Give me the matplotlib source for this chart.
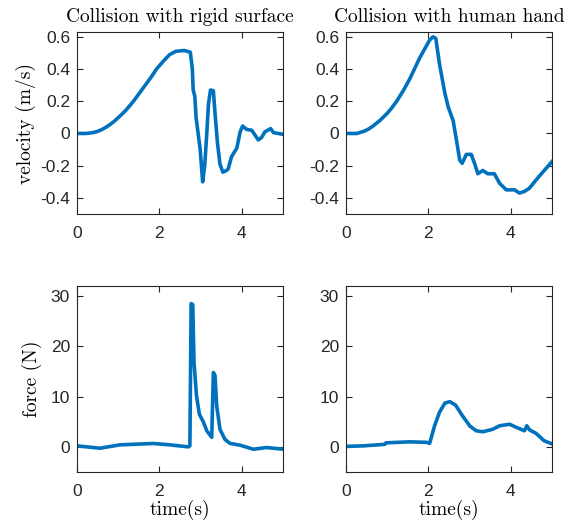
import matplotlib.pyplot as plt

# velocity, rigid surface
t_vr = [0, 0.2, 0.3, 0.4, 0.5, 0.6, 0.7, 0.8, 0.9, 1.0, 1.1, 1.2, 1.37, 1.5, 1.6, 1.8, 1.93,
        2.1, 2.25, 2.4, 2.6, 2.75, 2.8, 2.82, 2.86, 2.89, 2.94, 2.99, 3.05, 3.1, 3.15, 3.19,
        3.24, 3.31, 3.35, 3.41, 3.47, 3.54, 3.63, 3.67, 3.75, 3.88, 3.96, 4.02, 4.12, 4.24,
        4.4, 4.48, 4.56, 4.7, 4.77, 5.0]
v_rigid = [0, 0.0, 0.002, 0.006, 0.013, 0.024, 0.038, 0.055, 0.075, 0.098, 0.122, 0.148, 0.2,
           0.245, 0.28, 0.35, 0.4, 0.45, 0.49, 0.51, 0.515, 0.505, 0.4, 0.27, 0.23, 0.1, 0.0,
           -0.1, -0.3, -0.2, 0.0, 0.18, 0.27, 0.265, 0.125, -0.06, -0.19, -0.24, -0.23, -0.22,
           -0.145, -0.09, 0.01, 0.046, 0.025, 0.02, -0.04, -0.025, 0.01, 0.03, 0.005, -0.005]

# velocity, human hand
t_vh = [0, 0.26, 0.34, 0.45, 0.55, 0.65, 0.82, 1.0, 1.1, 1.23, 1.4, 1.55, 1.79, 2.03, 2.11,
        2.18, 2.27, 2.4, 2.48, 2.6, 2.68, 2.76, 2.82, 2.92, 3.04, 3.12, 3.2, 3.32, 3.44, 3.6,
        3.73, 3.89, 4.09, 4.21, 4.33, 4.45, 4.61, 4.81, 5.0]
v_hand = [0, 0.0, 0.006, 0.015, 0.028, 0.045, 0.08, 0.125, 0.155, 0.2, 0.27, 0.34, 0.47, 0.58,
          0.6, 0.59, 0.43, 0.25, 0.165, 0.08, -0.04, -0.165, -0.185, -0.13, -0.13, -0.185, -0.25,
          -0.23, -0.25, -0.25, -0.31, -0.35, -0.35, -0.37, -0.36, -0.34, -0.29, -0.23, -0.175]

# force, rigid surface
t_fr = [0, 0.56, 1.04, 1.85, 2.26, 2.7, 2.74, 2.77, 2.81, 2.84, 2.9, 2.97, 3.07, 3.15,
        3.27, 3.31, 3.35, 3.39, 3.47, 3.59, 3.71, 3.96, 4.28, 4.6, 5.0]
f_rigid = [0.2, -0.27, 0.4, 0.67, 0.4, 0.0, 0.2, 28.5, 28.3, 16.8, 10.2, 6.5, 4.9, 3.2,
           1.9, 14.8, 14.2, 8.2, 3.5, 1.5, 0.7, 0.33, -0.47, -0.13, -0.47]

# force, human hand
t_fh = [0, 0.42, 0.94, 0.97, 1.55, 1.95, 2.03, 2.15, 2.27, 2.4, 2.52, 2.66, 2.8, 3.0,
        3.16, 3.32, 3.56, 3.73, 3.97, 4.13, 4.33, 4.39, 4.45, 4.61, 4.81, 5.0]
f_hand = [0.1, 0.2, 0.5, 0.8, 1.0, 0.9, 0.7, 4.2, 6.9, 8.7, 9.0, 8.3, 6.5, 4.2,
          3.2, 3.0, 3.5, 4.2, 4.5, 3.9, 3.2, 4.2, 3.4, 2.7, 1.2, 0.6]

titles = ["Collision with rigid surface", "Collision with human hand"]
line_col = "#0072BD"
serif = "cmr10"
tick_font = "Liberation Sans"

fig = plt.figure(figsize=(5.66, 5.27), dpi=100)
W, H = 566, 527
lefts = [77, 346]
width = 206
top_box = (32, 214)
bot_box = (286, 472)


def make_ax(left, box):
    return fig.add_axes([left / W, 1 - box[1] / H, width / W, (box[1] - box[0]) / H])


def style(ax):
    ax.tick_params(direction="in", top=True, right=True, length=4, width=0.8,
                   colors="#262626", labelsize=12.5)
    ax.tick_params(axis="x", pad=9)
    ax.tick_params(axis="y", pad=5)
    for lab in ax.get_xticklabels() + ax.get_yticklabels():
        lab.set_fontfamily(tick_font)
    for s in ax.spines.values():
        s.set_color("#262626")
        s.set_linewidth(0.8)
    ax.set_xlim(0, 5)
    ax.set_xticks([0, 2, 4])


series_top = [(t_vr, v_rigid), (t_vh, v_hand)]
series_bot = [(t_fr, f_rigid), (t_fh, f_hand)]

for i in range(2):
    ax = make_ax(lefts[i], top_box)
    ax.plot(series_top[i][0], series_top[i][1], color=line_col, lw=2.6)
    ax.set_ylim(-0.5, 0.63)
    ax.set_yticks([-0.4, -0.2, 0, 0.2, 0.4, 0.6])
    ax.set_yticklabels(["-0.4", "-0.2", "0", "0.2", "0.4", "0.6"])
    style(ax)
    ax.set_title(titles[i], family=serif, fontsize=14, pad=7)
    if i == 0:
        ax.set_ylabel("velocity (m/s)", family=serif, fontsize=14, labelpad=3)

    ax = make_ax(lefts[i], bot_box)
    ax.plot(series_bot[i][0], series_bot[i][1], color=line_col, lw=2.6)
    ax.set_ylim(-5, 32)
    ax.set_yticks([0, 10, 20, 30])
    style(ax)
    ax.set_xlabel("time(s)", family=serif, fontsize=14, labelpad=0)
    if i == 0:
        ax.set_ylabel("force (N)", family=serif, fontsize=14, labelpad=6)

fig.savefig("out.png", dpi=100)
